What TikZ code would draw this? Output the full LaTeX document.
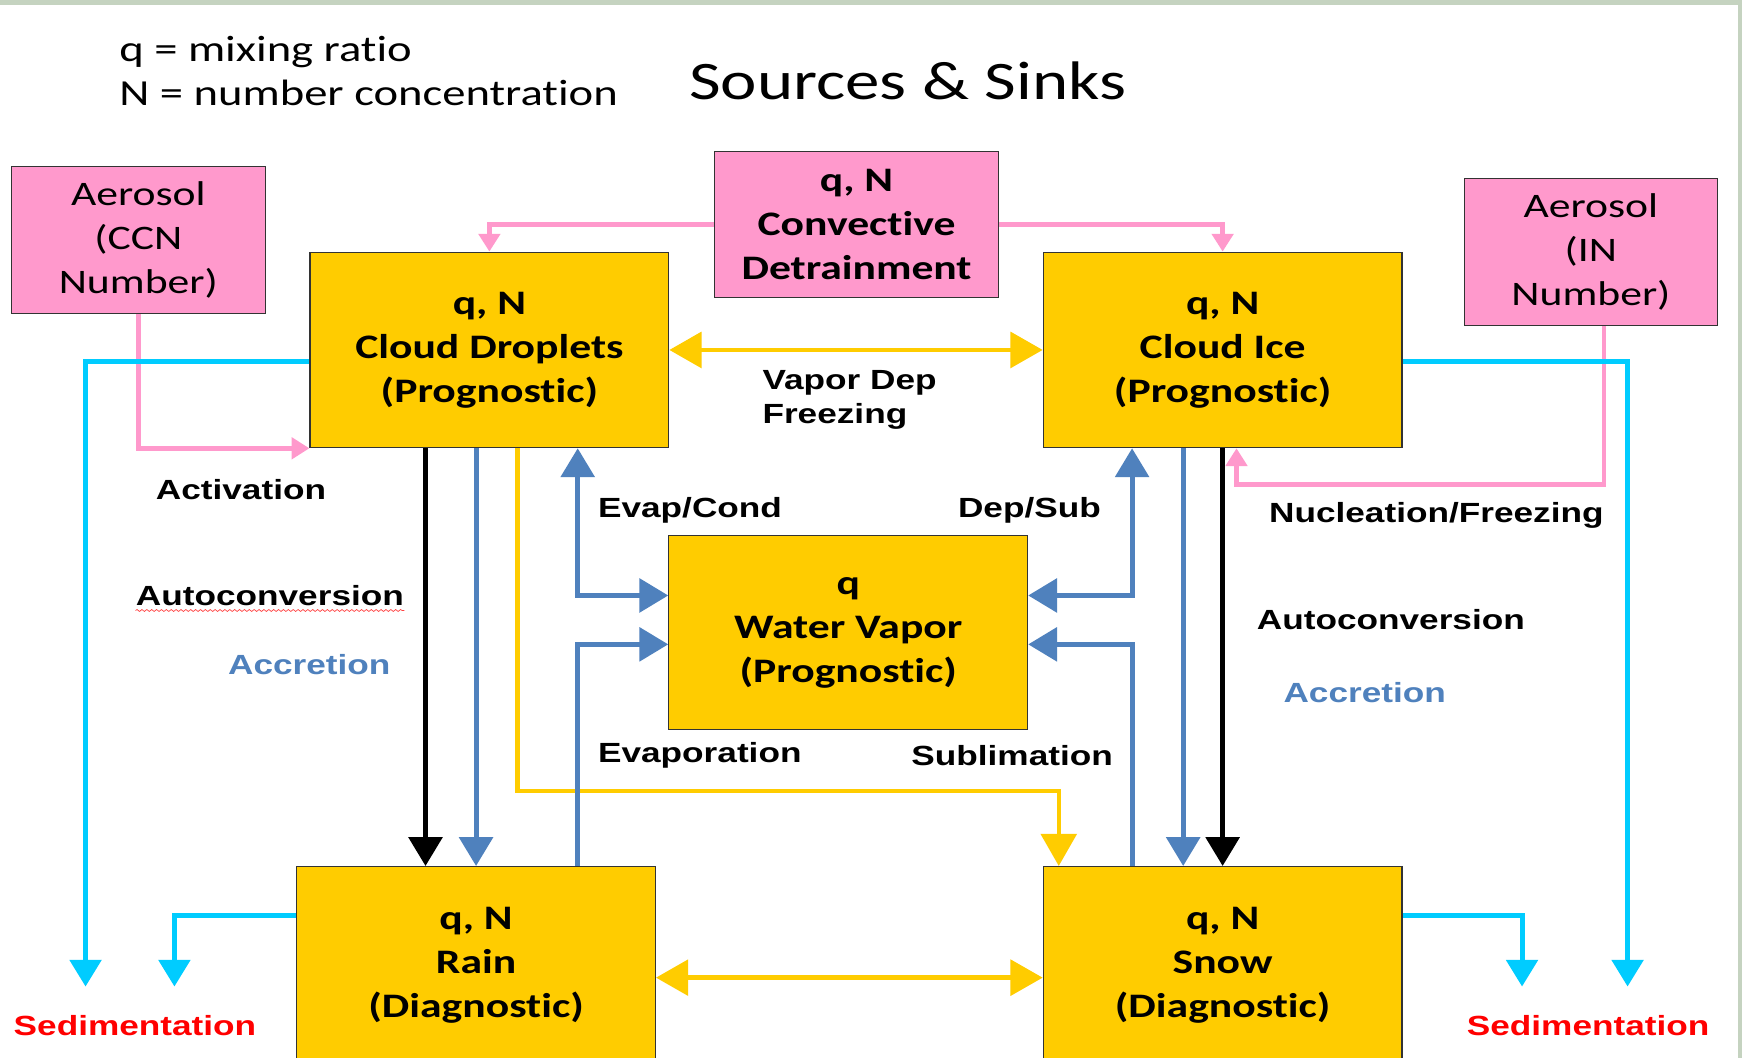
\documentclass[tikz,border=0pt]{standalone}
\usepackage{fontspec}
\usetikzlibrary{arrows.meta,calc,decorations.pathmorphing}

\newfontfamily\cajafont[FakeStretch=1.27,Ligatures=NoCommon]{Carlito}
\newfontfamily\etiqfont[FakeStretch=1.27]{Liberation Sans}

\definecolor{amarillo}{HTML}{FFCC00}
\definecolor{rosa}{HTML}{FF99CC}
\definecolor{celeste}{HTML}{00CCFF}
\definecolor{azul}{HTML}{4F81BD}
\definecolor{fondo}{HTML}{C5D3C0}

\tikzset{
  caja/.style={draw=black!80, line width=0.6pt, fill=amarillo, align=center, inner sep=0pt,
    minimum width=6.46cm, minimum height=3.52cm,
    font=\cajafont\fontsize{17.6}{22.5}\selectfont\bfseries},
  cajarosa/.style={caja, fill=rosa, minimum width=5.12cm, minimum height=2.64cm},
  aerosol/.style={cajarosa, minimum width=4.58cm, font=\cajafont\fontsize{17.6}{22.5}\selectfont},
  etiq/.style={anchor=west, inner sep=0pt, align=left,
    font=\etiqfont\fontsize{14.2}{17.6}\selectfont\bfseries},
  linea/.style={line width=0.09cm},
  rosaline/.style={draw=rosa, line width=0.08cm, -{Triangle[length=0.32cm,width=0.38cm]}},
  celesteline/.style={draw=celeste, linea, -{Triangle[length=0.48cm,width=0.56cm]}},
  azulline/.style={draw=azul, linea, -{Triangle[length=0.52cm,width=0.6cm]}},
  azuldoble/.style={draw=azul, linea, {Triangle[length=0.52cm,width=0.6cm]}-{Triangle[length=0.52cm,width=0.6cm]}},
  negroline/.style={draw=black, linea, -{Triangle[length=0.52cm,width=0.6cm]}},
  amarilloline/.style={draw=amarillo, line width=0.08cm, -{Triangle[length=0.58cm,width=0.64cm]}},
  amarillodoble/.style={draw=amarillo, line width=0.08cm, {Triangle[length=0.58cm,width=0.64cm]}-{Triangle[length=0.58cm,width=0.64cm]}},
}

\begin{document}
\begin{tikzpicture}[x=0.02cm, y=-0.02cm]
  %fondo
  \useasboundingbox (0,0) rectangle (1568,952);
  \fill[fondo] (0,0) rectangle (1568,952);
  \fill[white] (0,4.5) rectangle (1564,952);

  %%%% TEXTOS DE ARRIBA
  \node[anchor=west, inner sep=0pt, align=left, font=\cajafont\fontsize{18.8}{22.8}\selectfont]
    at (107,64) (leyenda) {q = mixing ratio\\N = number concentration};
  \node[anchor=west, inner sep=0pt, font=\cajafont\fontsize{27.8}{33}\selectfont]
    at (620,73) (titulo) {Sources \& Sinks};

  %%%% CAJAS
  \node[aerosol] at (124.5,216) (ccn) {Aerosol\\(CCN\\Number)};
  \node[cajarosa] at (771,202) (conv) {q, N\\Convective\\Detrainment};
  \node[aerosol, minimum width=4.56cm] at (1432,227) (in) {Aerosol\\(IN\\Number)};
  \node[caja] at (440.5,315) (gotas) {q, N\\Cloud Droplets\\(Prognostic)};
  \node[caja] at (1100.5,315) (hielo) {q, N\\Cloud Ice\\(Prognostic)};
  \node[caja, minimum height=3.5cm] at (763.5,569.5) (vapor) {q\\Water Vapor\\(Prognostic)};
  \node[caja, minimum height=3.56cm] at (428.5,869) (lluvia) {q, N\\Rain\\(Diagnostic)};
  \node[caja, minimum height=3.56cm] at (1100.5,869) (nieve) {q, N\\Snow\\(Diagnostic)};

  %%%% puntos de apoyo
  \coordinate (xk) at (383,0);
  \coordinate (xa) at (520,0);
  \coordinate (xy) at (466,0);
  \coordinate (xd) at (1019,0);
  \coordinate (xb) at (1065,0);
  \coordinate (xn) at (1444,0);
  \coordinate (va) at (0,536);
  \coordinate (vb) at (0,580);
  \coordinate (c1) at (0,325);
  \coordinate (c2) at (0,824);
  \coordinate (yb) at (0,880);
  \coordinate (codo) at (953,712);
  \coordinate (nuc) at (1113,436);
  \coordinate (sed1) at (77,888);
  \coordinate (sed2) at (157,888);
  \coordinate (sed3) at (1370,888);
  \coordinate (sed4) at (1465,888);

  %%%% FLECHAS
  %rosa
  \draw[rosaline] (conv.west) -| (gotas.north);
  \draw[rosaline] (conv.east) -| (hielo.north);
  \draw[rosaline] (ccn.south) |- (gotas.south west);
  \draw[rosaline] (in.south -| xn) |- (nuc) -- (hielo.south -| nuc);
  %celeste
  \draw[celesteline] (gotas.west |- c1) -| (sed1);
  \draw[celesteline] (lluvia.west |- c2) -| (sed2);
  \draw[celesteline] (hielo.east |- c1) -| (sed4);
  \draw[celesteline] (nieve.east |- c2) -| (sed3);
  %amarillo
  \draw[amarillodoble] (gotas.east) -- (hielo.west);
  \draw[amarillodoble] (lluvia.east |- yb) -- (nieve.west |- yb);
  \draw[amarilloline] (gotas.south -| xy) |- (codo) -- (nieve.north -| codo);
  %izquierda
  \draw[negroline] (gotas.south -| xk) -- (lluvia.north -| xk);
  \draw[azulline] (gotas.south -| lluvia.north) -- (lluvia.north);
  \draw[azuldoble] (gotas.south -| xa) |- (vapor.west |- va);
  \draw[azulline] (lluvia.north -| xa) |- (vapor.west |- vb);
  %derecha
  \draw[azuldoble] (hielo.south -| xd) |- (vapor.east |- va);
  \draw[azulline] (nieve.north -| xd) |- (vapor.east |- vb);
  \draw[azulline] (hielo.south -| xb) -- (nieve.north -| xb);
  \draw[negroline] (hielo.south) -- (nieve.north);

  %%%% ETIQUETAS
  \node[etiq] at (140,441) (activ) {Activation};
  \node[etiq] at (122,536) (autoI) {Autoconversion};
  \draw[red!75, line width=0.35pt, decorate, decoration={snake, amplitude=0.5pt, segment length=2.5pt}]
    ($(autoI.south west)+(0,4)$) -- ($(autoI.south east)+(0,4)$);
  \node[etiq, text=azul] at (205,598) (accI) {Accretion};
  \node[etiq] at (686,360) (vdep) {Vapor Dep\\Freezing};
  \node[etiq] at (538,459) (evcond) {Evap/Cond};
  \node[etiq] at (862,459) (depsub) {Dep/Sub};
  \node[etiq] at (538,680) (evap) {Evaporation};
  \node[etiq] at (820,680) (subl) {Sublimation};
  \node[etiq] at (1142,464) (nucfr) {Nucleation/Freezing};
  \node[etiq] at (1131,558) (autoD) {Autoconversion};
  \node[etiq, text=azul] at (1155,623) (accD) {Accretion};
  \node[etiq, text=red] at (12,923) (sedI) {Sedimentation};
  \node[etiq, text=red] at (1320,923) (sedD) {Sedimentation};
\end{tikzpicture}
\end{document}
